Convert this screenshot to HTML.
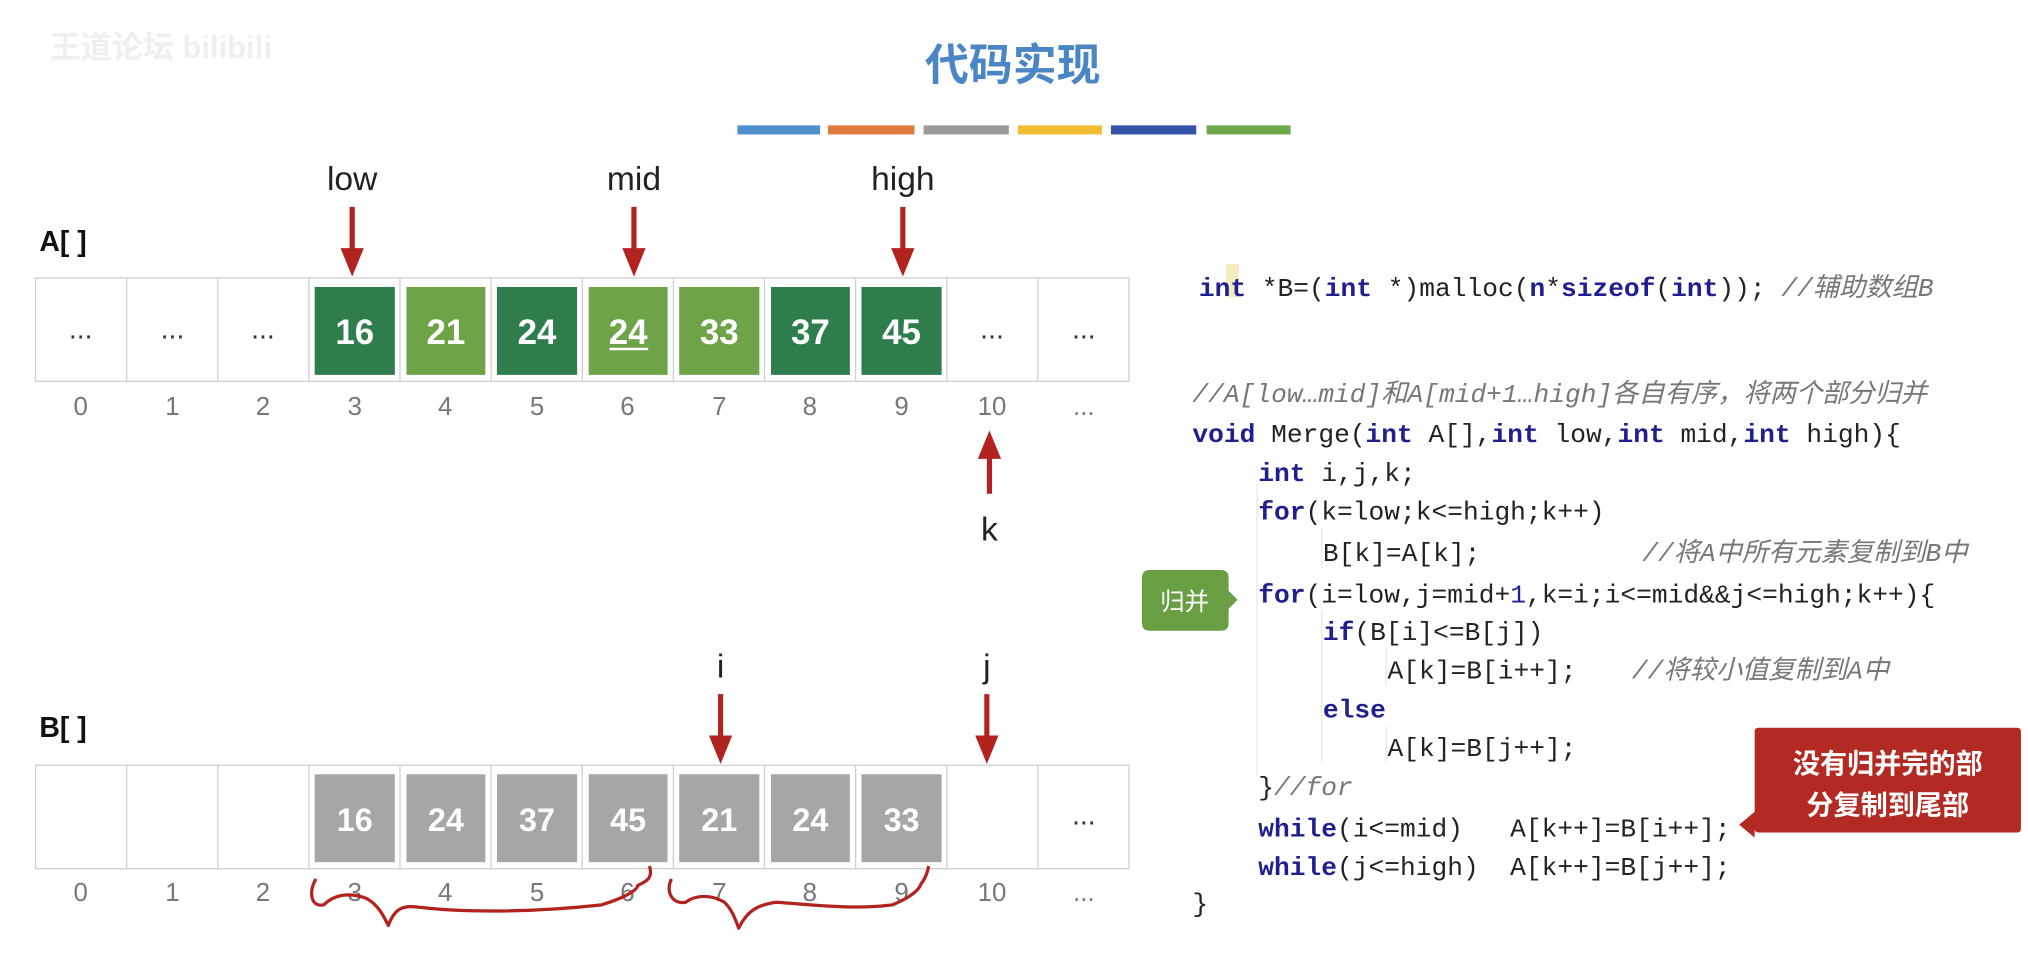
<!DOCTYPE html>
<html><head><meta charset="utf-8"><style>
html,body{margin:0;padding:0;background:#fff;}
svg{display:block}
.cj{font-family:"Liberation Sans","Noto Sans CJK SC",sans-serif}
.m{font-family:"Liberation Mono","Noto Sans CJK SC",monospace;font-size:20.3px;fill:#222}
.kw{fill:#1f1f8f;font-weight:bold}
.cm{fill:#777;font-style:italic}
</style></head><body>
<svg width="2028" height="963" viewBox="0 0 1568 745" xmlns="http://www.w3.org/2000/svg">
<!-- watermark -->
<text x="38" y="45" class="cj" font-size="24" fill="#efefef" font-weight="bold">王道论坛 bilibili</text>
<!-- title -->
<text x="783" y="62" text-anchor="middle" class="cj" font-size="34" font-weight="bold" fill="#4a86c5">代码实现</text>
<g>
<rect x="570" y="97" width="64" height="7" fill="#4f8fcd"/>
<rect x="640" y="97" width="67" height="7" fill="#e07b3c"/>
<rect x="714" y="97" width="66" height="7" fill="#9a9a9a"/>
<rect x="787" y="97" width="65" height="7" fill="#f0bd32"/>
<rect x="859" y="97" width="66" height="7" fill="#3554a8"/>
<rect x="933" y="97" width="65" height="7" fill="#6fa84a"/>
</g>
<g class="cj" font-size="26" fill="#222" text-anchor="middle">
<text x="272" y="147">low</text>
<text x="490" y="147">mid</text>
<text x="698" y="147">high</text>
<text x="765" y="418">k</text>
<text x="557" y="524">i</text>
<text x="763" y="524">j</text>
</g>
<text x="30" y="194" class="cj" font-size="22" font-weight="bold" fill="#111">A[ ]</text>
<text x="30" y="570" class="cj" font-size="22" font-weight="bold" fill="#111">B[ ]</text>
<g fill="#b2221e" stroke="#b2221e">
<line x1="272" y1="160" x2="272" y2="195" stroke-width="4"/><polygon points="263,192 281,192 272,214" stroke="none"/>
<line x1="490" y1="160" x2="490" y2="195" stroke-width="4"/><polygon points="481,192 499,192 490,214" stroke="none"/>
<line x1="698" y1="160" x2="698" y2="195" stroke-width="4"/><polygon points="689,192 707,192 698,214" stroke="none"/>
<line x1="765" y1="382" x2="765" y2="352" stroke-width="4"/><polygon points="756,355 774,355 765,333" stroke="none"/>
<line x1="557" y1="537" x2="557" y2="572" stroke-width="4"/><polygon points="548,569 566,569 557,591" stroke="none"/>
<line x1="763" y1="537" x2="763" y2="572" stroke-width="4"/><polygon points="754,569 772,569 763,591" stroke="none"/>
</g>
<g stroke="#cfcfcf" stroke-width="1" fill="none">
<rect x="27" y="215" width="846" height="80"/>
<rect x="27" y="592" width="846" height="80"/>
</g>
<g stroke="#cfcfcf" stroke-width="1">
<line x1="97.5" y1="215" x2="97.5" y2="295"/><line x1="168" y1="215" x2="168" y2="295"/><line x1="238.5" y1="215" x2="238.5" y2="295"/><line x1="309" y1="215" x2="309" y2="295"/><line x1="379.5" y1="215" x2="379.5" y2="295"/><line x1="450" y1="215" x2="450" y2="295"/><line x1="520.5" y1="215" x2="520.5" y2="295"/><line x1="591" y1="215" x2="591" y2="295"/><line x1="661.5" y1="215" x2="661.5" y2="295"/><line x1="732" y1="215" x2="732" y2="295"/><line x1="802.5" y1="215" x2="802.5" y2="295"/>
<line x1="97.5" y1="592" x2="97.5" y2="672"/><line x1="168" y1="592" x2="168" y2="672"/><line x1="238.5" y1="592" x2="238.5" y2="672"/><line x1="309" y1="592" x2="309" y2="672"/><line x1="379.5" y1="592" x2="379.5" y2="672"/><line x1="450" y1="592" x2="450" y2="672"/><line x1="520.5" y1="592" x2="520.5" y2="672"/><line x1="591" y1="592" x2="591" y2="672"/><line x1="661.5" y1="592" x2="661.5" y2="672"/><line x1="732" y1="592" x2="732" y2="672"/><line x1="802.5" y1="592" x2="802.5" y2="672"/>
</g>
<g>
<rect x="243" y="222" width="62" height="68" fill="#2f7d4c"/>
<rect x="314" y="222" width="61" height="68" fill="#6fa347"/>
<rect x="384" y="222" width="62" height="68" fill="#2f7d4c"/>
<rect x="455" y="222" width="61" height="68" fill="#6fa347"/>
<rect x="525" y="222" width="62" height="68" fill="#6fa347"/>
<rect x="596" y="222" width="61" height="68" fill="#2f7d4c"/>
<rect x="666" y="222" width="62" height="68" fill="#2f7d4c"/>
</g>
<g class="cj" font-size="27" fill="#fff" text-anchor="middle" font-weight="bold">
<text x="274" y="266">16</text><text x="344.5" y="266">21</text><text x="415" y="266">24</text><text x="485.5" y="266">24</text><text x="556" y="266">33</text><text x="626.5" y="266">37</text><text x="697" y="266">45</text>
</g>
<line x1="471" y1="270" x2="501" y2="270" stroke="#fff" stroke-width="2"/>
<g class="cj" font-size="22" fill="#333" text-anchor="middle">
<text x="62" y="262">...</text><text x="133" y="262">...</text><text x="203" y="262">...</text><text x="767" y="262">...</text><text x="838" y="262">...</text>
<text x="838" y="638">...</text>
</g>
<g>
<rect x="243" y="599" width="62" height="68" fill="#a6a6a6"/>
<rect x="314" y="599" width="61" height="68" fill="#a6a6a6"/>
<rect x="384" y="599" width="62" height="68" fill="#a6a6a6"/>
<rect x="455" y="599" width="61" height="68" fill="#a6a6a6"/>
<rect x="525" y="599" width="62" height="68" fill="#a6a6a6"/>
<rect x="596" y="599" width="61" height="68" fill="#a6a6a6"/>
<rect x="666" y="599" width="62" height="68" fill="#a6a6a6"/>
</g>
<g class="cj" font-size="25" fill="#fff" text-anchor="middle" font-weight="bold">
<text x="274" y="643">16</text><text x="344.5" y="643">24</text><text x="415" y="643">37</text><text x="485.5" y="643">45</text><text x="556" y="643">21</text><text x="626.5" y="643">24</text><text x="697" y="643">33</text>
</g>
<g class="cj" font-size="20" fill="#777" text-anchor="middle">
<text x="62" y="321">0</text><text x="133" y="321">1</text><text x="203" y="321">2</text><text x="274" y="321">3</text><text x="344" y="321">4</text><text x="415" y="321">5</text><text x="485" y="321">6</text><text x="556" y="321">7</text><text x="626" y="321">8</text><text x="697" y="321">9</text><text x="767" y="321">10</text><text x="838" y="321">...</text>
<text x="62" y="697">0</text><text x="133" y="697">1</text><text x="203" y="697">2</text><text x="274" y="697">3</text><text x="344" y="697">4</text><text x="415" y="697">5</text><text x="485" y="697">6</text><text x="556" y="697">7</text><text x="626" y="697">8</text><text x="697" y="697">9</text><text x="767" y="697">10</text><text x="838" y="697">...</text>
</g>
<g fill="none" stroke="#b2221e" stroke-width="2.5" stroke-linejoin="round">
<path d="M244,680 C238,690 240,702 250,700 C258,692 270,690 283,695 C292,700 296,708 300,716 C305,702 312,700 325,702 C360,706 410,706 465,700 C478,696 492,690 493,685 C499,682 505,680 502,670"/>
<path d="M519,680 C514,690 520,700 530,698 C538,692 550,692 560,698 C566,704 568,710 571,718 C578,704 586,700 600,698 C630,700 660,704 690,700 C700,696 710,690 712,684 C715,680 717,676 718,670"/>
</g>
<rect x="948" y="204" width="10" height="26" fill="#f5ecc0"/>
<g class="m">
<text x="927" y="229"><tspan class="kw">int</tspan>&#160;*B=(<tspan class="kw">int</tspan>&#160;*)malloc(<tspan class="kw" fill="#1f6f3f">n</tspan>*<tspan class="kw">sizeof</tspan>(<tspan class="kw">int</tspan>));&#160;<tspan class="cm">//辅助数组B</tspan></text>
<text x="922" y="311" class="cm">//A[low…mid]和A[mid+1…high]各自有序，将两个部分归并</text>
<text x="922" y="342"><tspan class="kw">void</tspan>&#160;Merge(<tspan class="kw">int</tspan>&#160;A[],<tspan class="kw">int</tspan>&#160;low,<tspan class="kw">int</tspan>&#160;mid,<tspan class="kw">int</tspan>&#160;high){</text>
<text x="973" y="372"><tspan class="kw">int</tspan>&#160;i,j,k;</text>
<text x="973" y="402"><tspan class="kw">for</tspan>(k=low;k&lt;=high;k++)</text>
<text x="1023" y="434">B[k]=A[k];</text>
<text x="1270" y="434" class="cm">//将A中所有元素复制到B中</text>
<text x="973" y="466"><tspan class="kw">for</tspan>(i=low,j=mid+<tspan fill="#1f1f8f">1</tspan>,k=i;i&lt;=mid&amp;&amp;j&lt;=high;k++){</text>
<text x="1023" y="495"><tspan class="kw">if</tspan>(B[i]&lt;=B[j])</text>
<text x="1073" y="525">A[k]=B[i++];</text>
<text x="1262" y="525" class="cm">//将较小值复制到A中</text>
<text x="1023" y="555" class="kw">else</text>
<text x="1073" y="585">A[k]=B[j++];</text>
<text x="973" y="615">}<tspan class="cm">//for</tspan></text>
<text x="973" y="647"><tspan class="kw">while</tspan>(i&lt;=mid)&#160;&#160;&#160;A[k++]=B[i++];</text>
<text x="973" y="677"><tspan class="kw">while</tspan>(j&lt;=high)&#160;&#160;A[k++]=B[j++];</text>
<text x="922" y="705">}</text>
</g>
<g stroke="#e8e8e8" stroke-width="1">
<line x1="972" y1="375" x2="972" y2="600"/>
<line x1="1022" y1="408" x2="1022" y2="440"/>
<line x1="1022" y1="472" x2="1022" y2="590"/>
<line x1="1072" y1="502" x2="1072" y2="530"/>
<line x1="1072" y1="562" x2="1072" y2="590"/>
</g>
<path d="M889,441 H944 Q950,441 950,447 V457 L957,464 L950,471 V482 Q950,488 944,488 H889 Q883,488 883,482 V447 Q883,441 889,441 Z" fill="#6a9e43"/>
<text x="916" y="472" text-anchor="middle" class="cj" font-size="19" fill="#fff">归并</text>
<path d="M1360,563 H1560 Q1563,563 1563,566 V641 Q1563,644 1560,644 H1360 Q1357,644 1357,641 V648 L1345,638 L1357,628 V566 Q1357,563 1360,563 Z" fill="#b32a22"/>
<text x="1460" y="598" text-anchor="middle" class="cj" font-size="21" font-weight="bold" fill="#fff">没有归并完的部</text>
<text x="1460" y="630" text-anchor="middle" class="cj" font-size="21" font-weight="bold" fill="#fff">分复制到尾部</text>
</svg>
</body></html>
